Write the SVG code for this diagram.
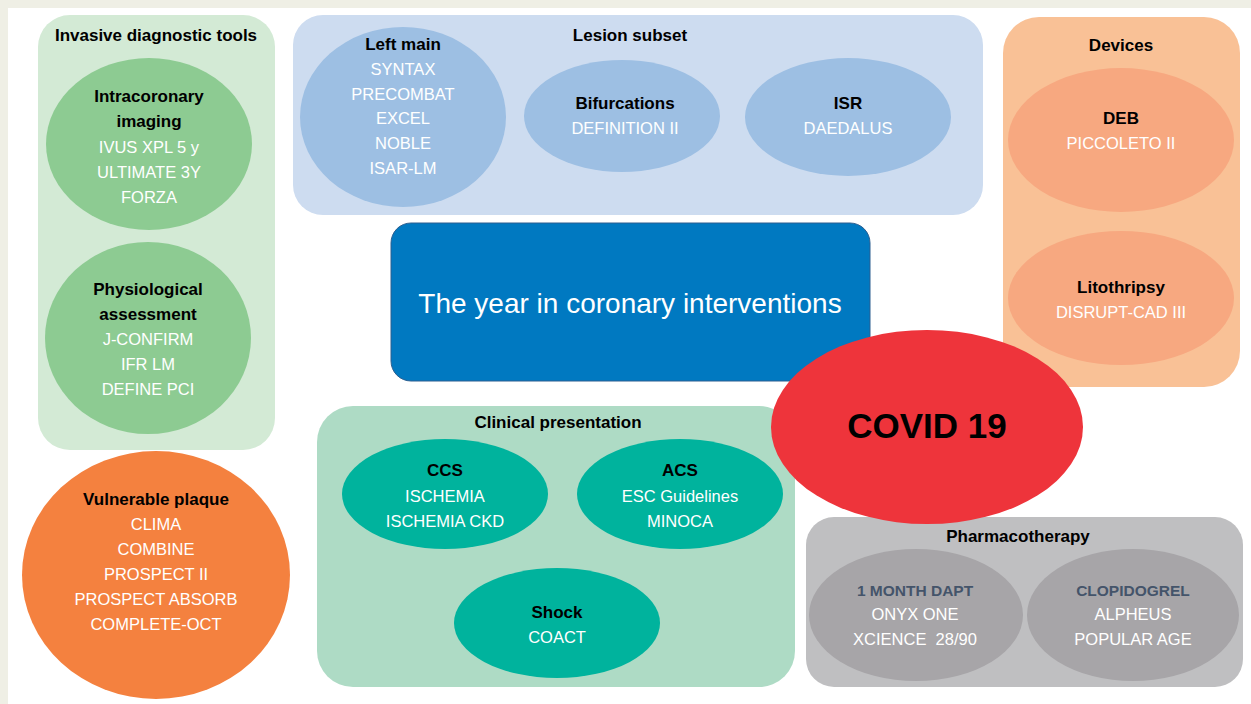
<svg xmlns="http://www.w3.org/2000/svg" width="1251" height="704" viewBox="0 0 1251 704">
<style>
text{font-family:"Liberation Sans",Arial,sans-serif;text-anchor:middle}
.h{font-weight:bold;font-size:17px;fill:#000}
.t{font-size:16.5px;fill:#fff}
.s{font-weight:bold;font-size:15.5px;fill:#44546a}
</style>
<rect x="0" y="0" width="1251" height="704" fill="#efefe5"/>
<rect x="8" y="8" width="1243" height="696" fill="#fff"/>
<g id="invasive">
<rect x="38" y="15" width="237" height="435" rx="32" fill="#d3ead5"/>
<text class="h" x="156" y="41">Invasive diagnostic tools</text>
</g>
<g id="intracoronary">
<ellipse cx="149" cy="144" rx="103" ry="86" fill="#8dcb92"/>
<text class="h" x="149" y="102">Intracoronary</text>
<text class="h" x="149" y="127">imaging</text>
<text class="t" x="149" y="153">IVUS XPL 5 y</text>
<text class="t" x="149" y="178">ULTIMATE 3Y</text>
<text class="t" x="149" y="203">FORZA</text>
</g>
<g id="physiological">
<ellipse cx="148" cy="338" rx="103" ry="96" fill="#8dcb92"/>
<text class="h" x="148" y="295">Physiological</text>
<text class="h" x="148" y="320">assessment</text>
<text class="t" x="148" y="345">J-CONFIRM</text>
<text class="t" x="148" y="370">IFR LM</text>
<text class="t" x="148" y="395">DEFINE PCI</text>
</g>
<g id="vulnerable">
<ellipse cx="156" cy="575" rx="134" ry="124" fill="#f4813f"/>
<text class="h" x="156" y="505">Vulnerable plaque</text>
<text class="t" x="156" y="530">CLIMA</text>
<text class="t" x="156" y="555">COMBINE</text>
<text class="t" x="156" y="580">PROSPECT II</text>
<text class="t" x="156" y="605">PROSPECT ABSORB</text>
<text class="t" x="156" y="630">COMPLETE-OCT</text>
</g>
<g id="lesion">
<rect x="293" y="15" width="690" height="200" rx="30" fill="#cddcf0"/>
<text class="h" x="630" y="41">Lesion subset</text>
</g>
<g id="leftmain">
<ellipse cx="403" cy="117" rx="103" ry="90" fill="#9dbfe3"/>
<text class="h" x="403" y="50">Left main</text>
<text class="t" x="403" y="75">SYNTAX</text>
<text class="t" x="403" y="100">PRECOMBAT</text>
<text class="t" x="403" y="124">EXCEL</text>
<text class="t" x="403" y="149">NOBLE</text>
<text class="t" x="403" y="174">ISAR-LM</text>
</g>
<g id="bifurcations">
<ellipse cx="622" cy="116" rx="98" ry="56" fill="#9dbfe3"/>
<text class="h" x="625" y="109">Bifurcations</text>
<text class="t" x="625" y="134">DEFINITION II</text>
</g>
<g id="isr">
<ellipse cx="848" cy="117" rx="103" ry="59" fill="#9dbfe3"/>
<text class="h" x="848" y="109">ISR</text>
<text class="t" x="848" y="134">DAEDALUS</text>
</g>
<g id="devices">
<rect x="1003" y="17" width="237" height="370" rx="36" fill="#f9c196"/>
<text class="h" x="1121" y="51">Devices</text>
</g>
<g id="deb">
<ellipse cx="1121" cy="140" rx="113" ry="72" fill="#f7a880"/>
<text class="h" x="1121" y="124">DEB</text>
<text class="t" x="1121" y="149">PICCOLETO II</text>
</g>
<g id="litothripsy">
<ellipse cx="1121" cy="298" rx="113" ry="67" fill="#f7a880"/>
<text class="h" x="1121" y="293">Litothripsy</text>
<text class="t" x="1121" y="318">DISRUPT-CAD III</text>
</g>
<g id="title">
<rect x="391" y="223" width="479" height="158" rx="20" fill="#0079c1" stroke="#2d5f90" stroke-width="1"/>
<text x="630" y="313" style="font-size:28px;fill:#fff">The year in coronary interventions</text>
</g>
<g id="clinical">
<rect x="317" y="406" width="478" height="281" rx="36" fill="#aedbc5"/>
<text class="h" x="558" y="428">Clinical presentation</text>
</g>
<g id="ccs">
<ellipse cx="445" cy="494" rx="103" ry="55" fill="#00b39d"/>
<text class="h" x="445" y="476">CCS</text>
<text class="t" x="445" y="502">ISCHEMIA</text>
<text class="t" x="445" y="527">ISCHEMIA CKD</text>
</g>
<g id="acs">
<ellipse cx="680" cy="494" rx="103" ry="55" fill="#00b39d"/>
<text class="h" x="680" y="476">ACS</text>
<text class="t" x="680" y="502">ESC Guidelines</text>
<text class="t" x="680" y="527">MINOCA</text>
</g>
<g id="shock">
<ellipse cx="557" cy="623" rx="103" ry="55" fill="#00b39d"/>
<text class="h" x="557" y="618">Shock</text>
<text class="t" x="557" y="643">COACT</text>
</g>
<g id="pharmacotherapy">
<rect x="806" y="517" width="437" height="170" rx="28" fill="#bfbfc1"/>
<text class="h" x="1018" y="542">Pharmacotherapy</text>
</g>
<g id="dapt">
<ellipse cx="916" cy="615" rx="107" ry="66" fill="#a7a5a8"/>
<text class="s" x="915" y="596">1 MONTH DAPT</text>
<text class="t" x="915" y="620">ONYX ONE</text>
<text class="t" x="915" y="645" xml:space="preserve">XCIENCE  28/90</text>
</g>
<g id="clopidogrel">
<ellipse cx="1133" cy="615" rx="106" ry="66" fill="#a7a5a8"/>
<text class="s" x="1133" y="596">CLOPIDOGREL</text>
<text class="t" x="1133" y="620">ALPHEUS</text>
<text class="t" x="1133" y="645">POPULAR AGE</text>
</g>
<g id="covid">
<ellipse cx="927" cy="427" rx="156" ry="97" fill="#ee343b"/>
<text x="927" y="438" style="font-weight:bold;font-size:35px;fill:#000">COVID 19</text>
</g>
<g id="connectors"></g>
</svg>
